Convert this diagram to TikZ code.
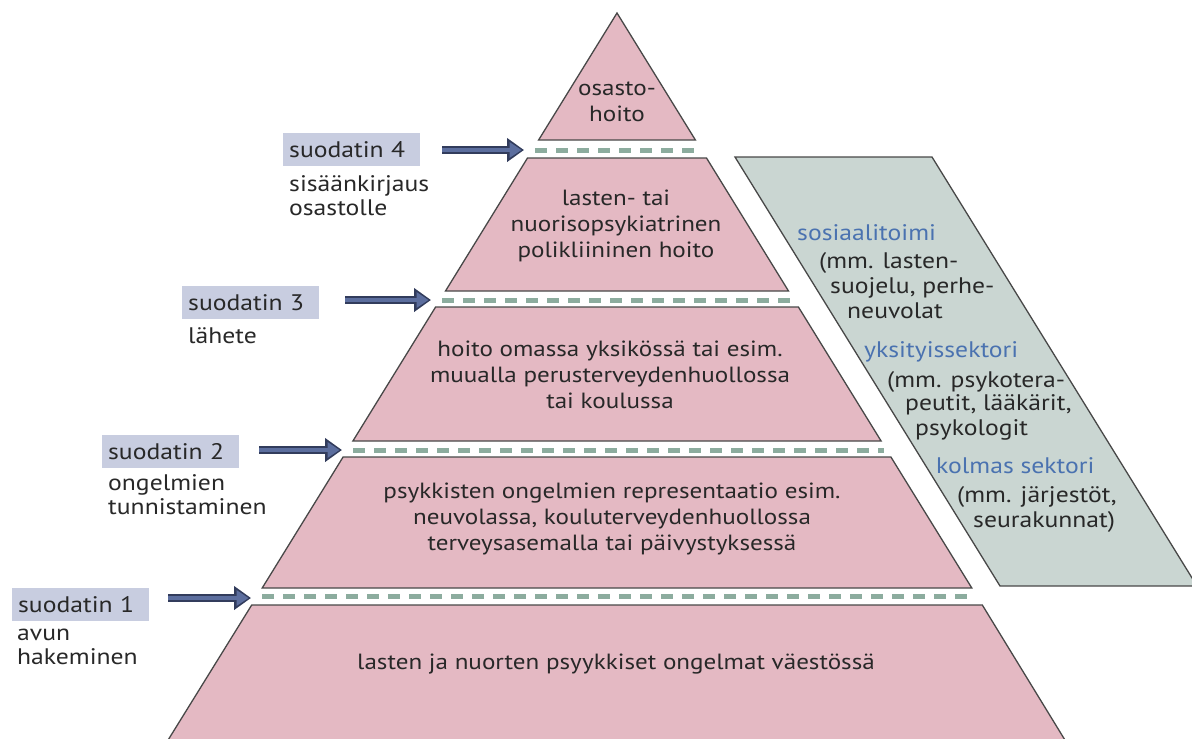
\documentclass[tikz,border=0pt]{standalone}
\usepackage{fontspec}
\setmainfont{PT Sans}[FakeStretch=1.14]
\usetikzlibrary{positioning,arrows.meta}
\begin{document}
\begin{tikzpicture}[x=1pt,y=-1pt]
\definecolor{slabcolor}{RGB}{228,185,195}
\definecolor{sectorcolor}{RGB}{202,214,210}
\definecolor{filtercolor}{RGB}{140,172,158}
\definecolor{boxcolor}{RGB}{200,205,224}
\definecolor{arrowcolor}{RGB}{92,110,158}
\definecolor{arrowedge}{RGB}{50,60,92}
\definecolor{headcolor}{RGB}{74,114,176}
\definecolor{inkcolor}{RGB}{40,40,40}
\newcommand{\diagfont}{\fontsize{22}{26}\selectfont}
\newcommand{\sidefont}{\fontsize{22.5}{24}\selectfont}
\tikzstyle{slab}=[fill=slabcolor,draw=inkcolor!85,line width=1.3pt]
\tikzstyle{sector}=[fill=sectorcolor,draw=inkcolor!85,line width=1.3pt]
\tikzstyle{filterline}=[filtercolor,line width=5pt,dash pattern=on 12pt off 9pt]
\tikzstyle{filterarrow}=[arrowedge,line width=7.5pt,-{Triangle[length=17pt,width=23pt]},shorten >=11pt,
  postaction={draw=arrowcolor,line width=3.5pt,-{Triangle[length=12pt,width=15pt]},shorten >=13.5pt}]
\tikzstyle{filterbox}=[fill=boxcolor,anchor=north west,minimum height=33pt,text width=125pt,inner xsep=6pt,align=left,text=inkcolor,font=\sidefont]
\tikzstyle{sublabel}=[inner sep=0pt,align=left,text=inkcolor,font=\sidefont]
\tikzstyle{slabtext}=[align=center,text=inkcolor,font=\diagfont]
\tikzstyle{sectorhead}=[text=headcolor,anchor=base west,inner sep=0pt,font=\sidefont]
\tikzstyle{sectortext}=[text=inkcolor,anchor=base west,inner sep=0pt,font=\sidefont]
\useasboundingbox (0,0) rectangle (1192,739);
\draw[slab] (617,13) -- (695.4,140) -- (538.6,140) -- cycle;
\draw[slab] (527.5,158) -- (706.5,158) -- (788.5,291) -- (445.5,291) -- cycle;
\draw[slab] (435.6,307) -- (798.4,307) -- (881.1,441) -- (352.9,441) -- cycle;
\draw[slab] (343.1,457) -- (890.9,457) -- (971.8,588) -- (262.2,588) -- cycle;
\draw[slab] (251.7,605) -- (982.3,605) -- (1068,745) -- (165,745) -- cycle;
\draw[sector] (735,157) -- (932,157) -- (1197,586) -- (1000,586) -- cycle;
\node[slabtext] (t5) at (617,102) {osasto-\\hoito};
\node[slabtext] (t4) at (616,226) {lasten- tai\\nuorisopsykiatrinen\\polikliininen hoito};
\node[slabtext] (t3) at (610,375) {hoito omassa yksikössä tai esim.\\muualla perusterveydenhuollossa\\tai koulussa};
\node[slabtext] (t2) at (612,519) {psykkisten ongelmien representaatio esim.\\neuvolassa, kouluterveydenhuollossa\\terveysasemalla tai päivystyksessä};
\node[slabtext] (t1) at (616,664) {lasten ja nuorten psyykkiset ongelmat väestössä};
\coordinate (f4w) at (535,150);
\coordinate (f4e) at (697,150);
\coordinate (f3w) at (442,300);
\coordinate (f3e) at (792,300);
\coordinate (f2w) at (353,450);
\coordinate (f2e) at (884,450);
\coordinate (f1w) at (262,596);
\coordinate (f1e) at (974,596);
\draw[filterline] (f4w) -- (f4e);
\draw[filterline] (f3w) -- (f3e);
\draw[filterline] (f2w) -- (f2e);
\draw[filterline] (f1w) -- (f1e);
\node[filterbox] (s4) at (283,133) {suodatin 4};
\node[filterbox] (s3) at (182,286) {suodatin 3};
\node[filterbox] (s2) at (102,435) {suodatin 2};
\node[filterbox] (s1) at (12,588) {suodatin 1};
\node[sublabel,below right=9pt and 6pt of s4.south west] (l4) {sisäänkirjaus\\osastolle};
\node[sublabel,below right=8pt and 6pt of s3.south west] (l3) {lähete};
\node[sublabel,below right=6pt and 6pt of s2.south west] (l2) {ongelmien\\tunnistaminen};
\node[sublabel,below right=7pt and 5pt of s1.south west] (l1) {avun\\hakeminen};
\coordinate (a4) at (442,150);
\coordinate (a3) at (345,300);
\coordinate (a2) at (259,450);
\coordinate (a1) at (168,598);
\draw[filterarrow] (a4) -- (f4w);
\draw[filterarrow] (a3) -- (f3w);
\draw[filterarrow] (a2) -- (f2w);
\draw[filterarrow] (a1) -- (f1w |- a1);
\node[sectorhead] (h1) at (797,240) {sosiaalitoimi};
\node[sectortext] (h1a) at (819,268) {(mm. lasten-};
\node[sectortext] (h1b) at (830,293) {suojelu, perhe-};
\node[sectortext] (h1c) at (847,318) {neuvolat};
\node[sectorhead] (h2) at (864,357) {yksityissektori};
\node[sectortext] (h2a) at (887,387) {(mm. psykotera-};
\node[sectortext] (h2b) at (905,410) {peutit, lääkärit,};
\node[sectortext] (h2c) at (915,435) {psykologit};
\node[sectorhead] (h3) at (936,473) {kolmas sektori};
\node[sectortext] (h3a) at (957,502) {(mm. järjestöt,};
\node[sectortext] (h3b) at (973,527) {seurakunnat)};
\end{tikzpicture}
\end{document}
